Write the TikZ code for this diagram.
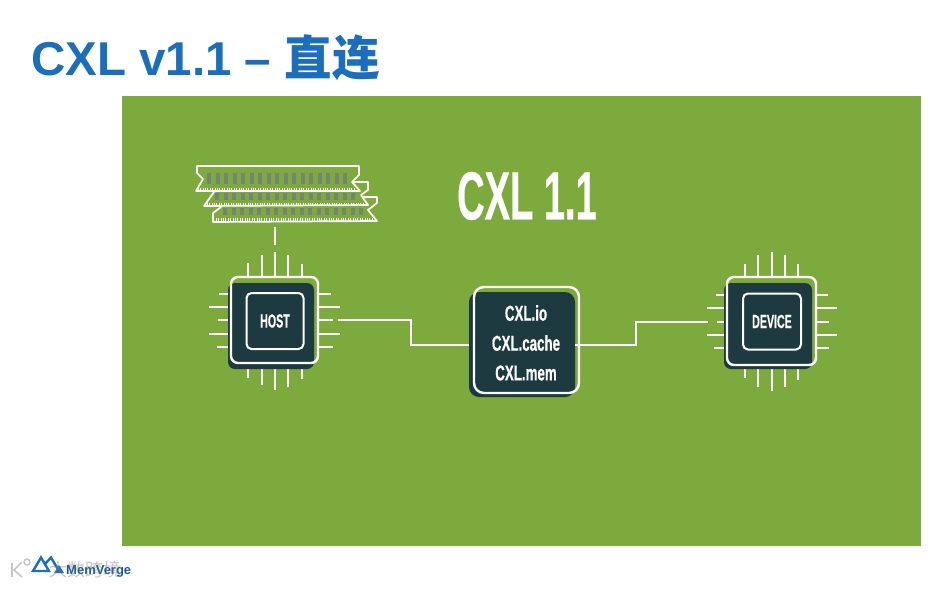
\documentclass[tikz,border=0pt]{standalone}
\usepackage{fontspec}
\setmainfont{Liberation Sans}
\newfontfamily\cjkfont{Noto Sans CJK SC}
\newfontfamily\narrowfont[FakeStretch=0.56,BoldFeatures={FakeBold=0.4}]{Liberation Sans}
\newfontfamily\stackfont[FakeStretch=0.62,BoldFeatures={FakeBold=0.4}]{Liberation Sans}
\definecolor{slideblue}{HTML}{1B6EBB}
\definecolor{boardgreen}{HTML}{7DAA3C}
\definecolor{chipdark}{HTML}{1C3A40}
\definecolor{ramgray}{HTML}{768478}
\tikzset{
  wire/.style={draw=white, line width=2pt},
  shadowbox/.style={fill=chipdark, rounded corners=7pt, inner sep=0pt},
  framebox/.style={draw=white, line width=2.4pt, rounded corners=7pt, inner sep=0pt},
  corebox/.style={draw=white, line width=2pt, rounded corners=5pt, inner sep=0pt,
    minimum width=57pt, minimum height=56pt, text=white, font=\narrowfont\bfseries\fontsize{19}{19}\selectfont},
  ramline/.style={draw=white, line width=1.7pt, fill=boardgreen, line join=round},
  stacklabel/.style={text=white, font=\stackfont\bfseries\fontsize{21.5}{21.5}\selectfont},
}
\begin{document}
\begin{tikzpicture}[x=1pt, y=-1pt]
    \useasboundingbox (0,0) rectangle (945,589);
    \fill[white] (0,0) rectangle (945,589);
    \fill[boardgreen] (122,96) rectangle (921,546);

    % Title
    \node[anchor=west, text=slideblue, inner sep=0pt, font=\bfseries\fontsize{47.5}{47.5}\selectfont] (title) at (31,58)
        {CXL v1.1 – {\cjkfont 直连}};
    \node[text=white, inner sep=0pt, font=\narrowfont\bfseries\fontsize{68}{68}\selectfont] (version) at (527,196) {CXL 1.1};

    % Memory modules, back to front
    \draw[ramline] (213,222) -- (213,213) -- (221,207) -- (221,197) -- (377,197) -- (377,203) -- (368,210) -- (377,221) -- cycle;
    \foreach \i in {0,...,16} \fill[ramgray] (223+8.5*\i,208) rectangle +(4,6.5);
    \draw[ramline] (204,206) -- (214,192) -- (214,182) -- (368,182) -- (368,190) -- (361,195) -- (368,205) -- cycle;
    \foreach \i in {0,...,16} \fill[ramgray] (215+8.5*\i,193) rectangle +(4,6.5);
    \draw[ramline] (197,166) -- (359,166) -- (359,175) -- (352,182) -- (360,191) -- (196,191) -- (203,179) -- (197,173) -- cycle;
    \foreach \i in {0,...,16} \fill[ramgray] (207+8.5*\i,173) rectangle +(4,11);
    \foreach \i in {0,...,65} {
        \draw[white, line width=0.6pt] (198+2.4*\i,187.5) -- +(0,3.5);
        \draw[white, line width=0.6pt] (207+2.4*\i,202.5) -- +(0,3.5);
        \draw[white, line width=0.6pt] (216+2.4*\i,217.5) -- +(0,3.5);
    }
    \coordinate (ramfoot) at (275,227);
    \coordinate (hosthead) at (275,245);
    \draw[wire] (ramfoot) -- (hosthead);

    % Host chip
    \foreach \x/\e in {248/263, 262/255, 275/252, 288/255, 302/264} \draw[wire] (\x,277) -- (\x,\e);
    \foreach \x/\e in {248/378, 262/385, 275/390, 288/387, 302/379} \draw[wire] (\x,363) -- (\x,\e);
    \foreach \y/\e in {294/219, 307/209, 320/218, 334/209, 347/217} \draw[wire] (231,\y) -- (\e,\y);
    \foreach \y/\e in {294/331, 307/340, 320/333, 334/340, 347/333} \draw[wire] (318,\y) -- (\e,\y);
    \node[shadowbox, minimum width=86pt, minimum height=86pt] (hostshadow) at (271,326) {};
    \node[framebox, minimum width=87pt, minimum height=86pt] (hostframe) at (274.5,320) {};
    \node[corebox] (host) at (275,321) {HOST};

    % Device chip
    \foreach \x/\e in {745/264, 758/255, 772/252, 785/255, 798/264} \draw[wire] (\x,277) -- (\x,\e);
    \foreach \x/\e in {745/378, 758/387, 772/391, 785/387, 798/380} \draw[wire] (\x,365) -- (\x,\e);
    \foreach \y/\e in {295/716, 308/707, 322/717, 335/707, 348/714} \draw[wire] (727,\y) -- (\e,\y);
    \foreach \y/\e in {295/828, 308/837, 322/829, 335/837, 348/829} \draw[wire] (816,\y) -- (\e,\y);
    \node[shadowbox, minimum width=88pt, minimum height=86pt] (deviceshadow) at (768,326) {};
    \node[framebox, minimum width=89pt, minimum height=88pt] (deviceframe) at (771.5,321) {};
    \node[corebox, minimum width=58pt] (device) at (772,321.5) {DEVICE};

    % Protocol stack
    \node[shadowbox, rounded corners=10pt, minimum width=106pt, minimum height=105pt] (stackshadow) at (522,344.5) {};
    \node[framebox, rounded corners=10pt, minimum width=105pt, minimum height=106pt] (stack) at (526.5,340) {};
    \node[stacklabel] (io) at (526,313) {CXL.io};
    \node[stacklabel] (cache) at (526,343) {CXL.cache};
    \node[stacklabel] (mem) at (526,373) {CXL.mem};

    % Links
    \coordinate (hostout) at (338,320);
    \coordinate (deviceout) at (708,322);
    \draw[wire] (hostout) -- (411,320) -- (411,344.5) -- (stackshadow.west |- 0,344.5);
    \draw[wire] (stackshadow.east |- 0,345) -- (636,345) -- (636,322) -- (deviceout);

    % Footer logo
    \draw[slideblue, line width=2.4pt, line join=miter] (33,571) -- (41,557.5) -- (49,571) -- cycle;
    \draw[slideblue, line width=2.4pt, line join=miter] (45,564) -- (51,557.5) -- (59,571);
    \fill[slideblue] (54,573) -- (59,565) -- (64,573) -- cycle;
    \node[anchor=west, inner sep=0pt, text=slideblue!80!black, font=\bfseries\fontsize{13}{13}\selectfont] (brand) at (66,571) {MemVerge};
    \node[anchor=west, inner sep=0pt, text=gray, opacity=0.45, font=\cjkfont\fontsize{18}{18}\selectfont] (mark) at (49,570) {大数跨境};
    \draw[gray!45, line width=1.6pt] (12,563) -- (12,577) (22,562) -- (14,570) -- (22,577);
    \draw[gray!45, line width=1.4pt] (27,562) circle (3);
\end{tikzpicture}
\end{document}
